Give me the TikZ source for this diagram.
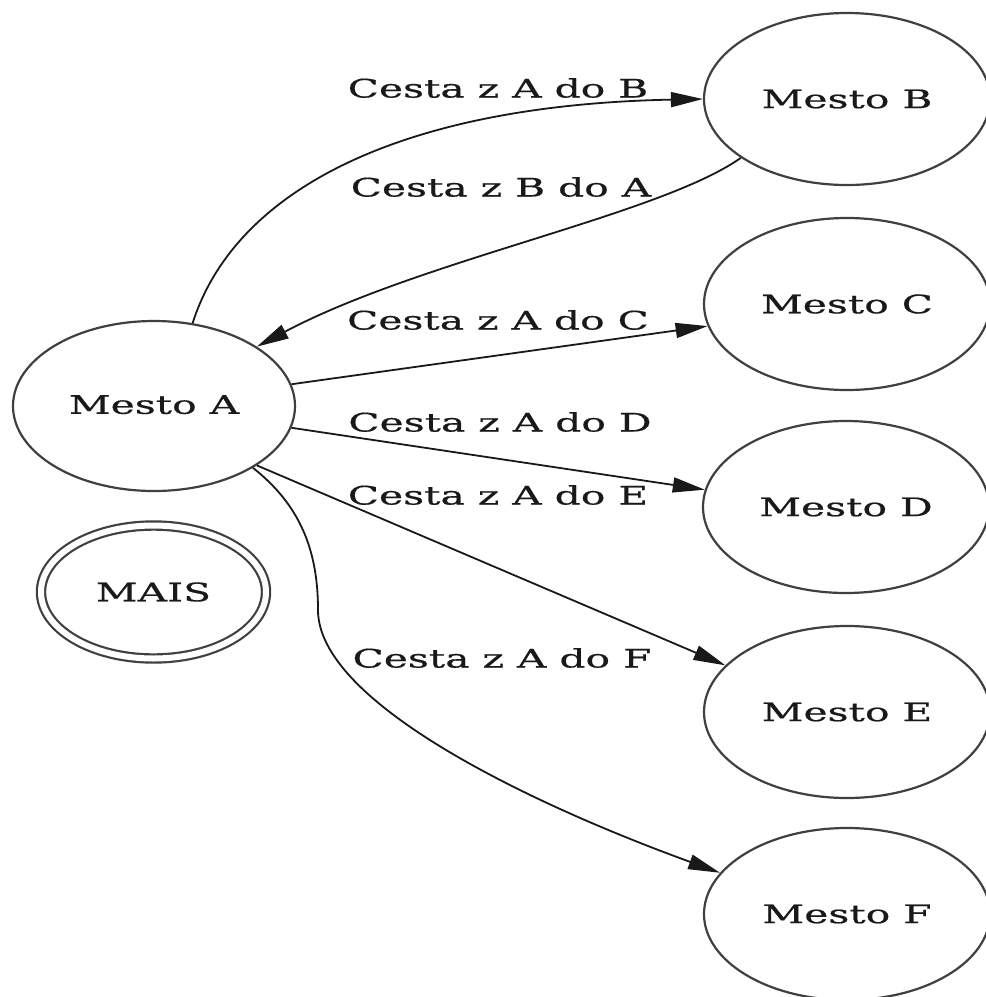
\documentclass[tikz,border=0pt]{standalone}
\usepackage{fontspec}
\setmainfont{DejaVu Serif}[FakeStretch=1.6,FakeBold=0.6]
\usetikzlibrary{arrows.meta,shapes.geometric}
\tikzset{
  lbl/.style={font=\fontsize{25.5}{30}\selectfont, inner sep=0pt, text=black!90},
  city/.style={ellipse, draw=black!75, line width=2.2pt, minimum width=286pt, minimum height=172pt, inner sep=0pt, font=\fontsize{25.5}{30}\selectfont, text=black!90},
  start/.style={city, minimum width=225pt, minimum height=133pt, double=white, double distance=6pt},
  edge/.style={draw=black!90, line width=1.8pt, -{Triangle[length=32pt,width=15pt]}},
}
\begin{document}
\begin{tikzpicture}[x=1pt,y=-1pt]
\clip (0,0) rectangle (986,997);
\fill[white] (0,0) rectangle (986,997);
% nodes
\node[city, minimum width=282pt, minimum height=170pt] (A) at (154,406) {\raisebox{3pt}{Mesto A}};
\node[start] (M) at (153.5,592) {MAIS};
\node[city] (B) at (847,99) {Mesto B};
\node[city] (C) at (847,304) {Mesto C};
\node[city] (D) at (846,507) {Mesto D};
\node[city] (E) at (847,712) {Mesto E};
\node[city] (F) at (847,914) {Mesto F};
% labels
\node[lbl] (lAB) at (498,88) {Cesta z A do B};
\node[lbl] (lBA) at (501,187) {Cesta z B do A};
\node[lbl] (lAC) at (498,320) {Cesta z A do C};
\node[lbl] (lAD) at (500,422) {Cesta z A do D};
\node[lbl] (lAE) at (498,495) {Cesta z A do E};
\node[lbl] (lAF) at (502,658) {Cesta z A do F};
% edges
\draw[edge] (A.65) .. controls (235,190) and (400,105) .. (B.180);
\draw[edge] (B.209) .. controls (660,215) and (420,260) .. (A.30);
\draw[edge] (A.9) -- (C.189);
\draw[edge] (A.-9) -- (D.173);
\draw[edge] (A.-30) -- (E.159);
\draw[edge] (A.-32) .. controls (300,505) and (318,550) .. (318,610)
   .. controls (318,700) and (520,800) .. (F.162);
\end{tikzpicture}
\end{document}
